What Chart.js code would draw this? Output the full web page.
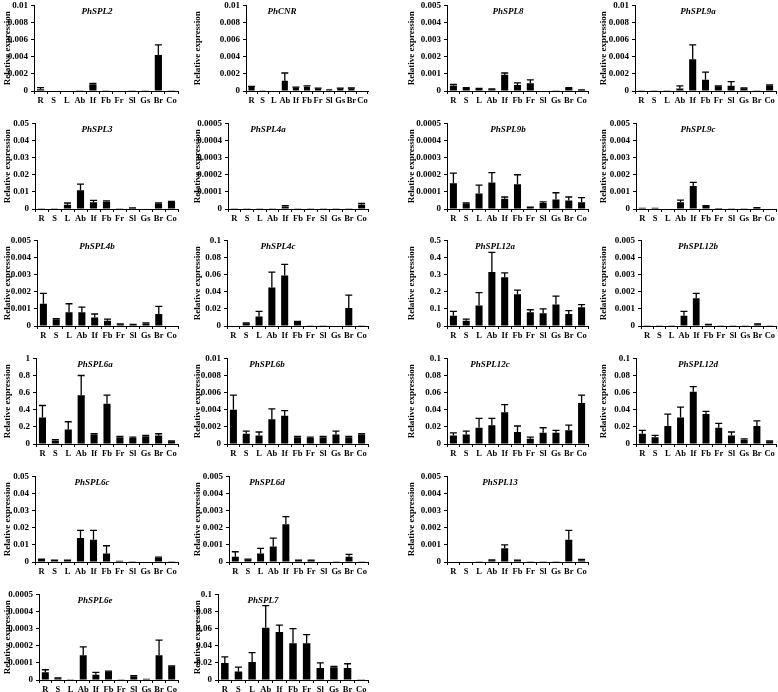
<!DOCTYPE html>
<html>
<head>
<meta charset="utf-8">
<script src="https://cdn.jsdelivr.net/npm/chart.js@4.4.1/dist/chart.umd.min.js"></script>
<style>
    body { margin: 0; background: #fff; }
    #wrap { position: relative; width: 778px; height: 692px; overflow: hidden; }
    #wrap canvas { position: absolute; }
</style>
</head>
<body>
<div id="wrap"></div>
<script>
// tissues on the x axis
var tissues = ["R", "S", "L", "Ab", "If", "Fb", "Fr", "Sl", "Gs", "Br", "Co"];

// mean relative expression and error (upper bar) per gene
var spl2Mean = [0.0002, 0.00005, 0.00006, 0.00002, 0.0008, 0.00002, 0.00005, 0.0001, 0.00003, 0.0042, 0.00003];
var spl2Err = [0.0002, 0, 0, 0, 0.0001, 0, 0, 0, 0, 0.0012, 0];
var cnrMean = [0.0005, 0.0001, 0.00006, 0.0012, 0.0004, 0.0005, 0.0003, 0.0002, 0.0003, 0.0003, 0.00005];
var cnrErr = [0.00005, 0, 0, 0.0009, 0.00005, 0.0001, 0.00003, 0, 0.00003, 0.00005, 0];
var spl8Mean = [0.0003, 0.00018, 0.00013, 0.0001, 0.00095, 0.00035, 0.00045, 0.00003, 0.00001, 0.00017, 0.00005];
var spl8Err = [0.00008, 0.00002, 0.00002, 0.00002, 0.0001, 0.00013, 0.0002, 0, 0, 0.00002, 0.00001];
var spl9aMean = [0.00003, 0.00003, 0.00003, 0.0003, 0.0037, 0.0013, 0.00055, 0.0006, 0.0003, 0.0001, 0.0006];
var spl9aErr = [0, 0, 0, 0.0003, 0.0017, 0.0009, 0.00005, 0.0005, 0.00005, 0, 0.0001];
var spl3Mean = [0.0005, 0.0005, 0.0025, 0.011, 0.004, 0.0043, 0.0005, 0.0005, 0.0003, 0.003, 0.0042];
var spl3Err = [0, 0, 0.001, 0.0035, 0.001, 0.0005, 0, 0.0002, 0, 0.0005, 0.0003];
var spl4aMean = [0.000001, 0.000001, 0.000001, 0.000001, 0.000015, 0.000001, 0.000001, 0.000001, 0.000001, 0.000001, 0.000025];
var spl4aErr = [0, 0, 0, 0, 0.000005, 0, 0, 0, 0, 0, 0.000007];
var spl9bMean = [0.00015, 0.00003, 0.00009, 0.000155, 0.00006, 0.000145, 0.000015, 0.000035, 0.000055, 0.00005, 0.00004];
var spl9bErr = [0.00006, 0.000005, 0.00005, 0.000058, 0.00001, 0.000055, 0, 0.000007, 0.00004, 0.00002, 0.000027];
var spl9cMean = [0.00008, 0.00008, 0.00003, 0.0004, 0.00135, 0.00017, 0.000005, 0.00002, 0.00001, 0.00007, 0.00003];
var spl9cErr = [0, 0, 0, 0.00012, 0.0002, 0.00003, 0, 0, 0, 0.00001, 0];
var spl4bMean = [0.0013, 0.0004, 0.0008, 0.0008, 0.0005, 0.0003, 0.0001, 0.00007, 0.00015, 0.0007, 0.00003];
var spl4bErr = [0.0006, 0.00003, 0.0005, 0.0003, 0.0002, 0.0001, 0.00002, 0.00002, 0.00003, 0.00045, 0];
var spl4cMean = [0.0005, 0.003, 0.011, 0.045, 0.059, 0.005, 0.0003, 0.0008, 0.0005, 0.021, 0.0003];
var spl4cErr = [0, 0.0005, 0.006, 0.018, 0.013, 0.0005, 0, 0, 0, 0.015, 0];
var spl12aMean = [0.06, 0.03, 0.12, 0.315, 0.285, 0.185, 0.08, 0.075, 0.125, 0.07, 0.11];
var spl12aErr = [0.025, 0.01, 0.075, 0.115, 0.025, 0.025, 0.015, 0.025, 0.05, 0.02, 0.015];
var spl12bMean = [0.00002, 0.00005, 0.00002, 0.0006, 0.00162, 0.00008, 0.00002, 0.00002, 0.00002, 0.0001, 0.00002];
var spl12bErr = [0, 0, 0, 0.00025, 0.00028, 0.00002, 0, 0, 0, 0.00002, 0];
var spl6aMean = [0.31, 0.04, 0.17, 0.57, 0.11, 0.47, 0.08, 0.07, 0.09, 0.1, 0.03];
var spl6aErr = [0.14, 0.01, 0.09, 0.23, 0.01, 0.1, 0.01, 0.01, 0.01, 0.02, 0.005];
var spl6bMean = [0.004, 0.0012, 0.001, 0.0029, 0.0033, 0.0008, 0.0007, 0.0008, 0.0011, 0.0008, 0.0011];
var spl6bErr = [0.0017, 0.0003, 0.0004, 0.0012, 0.0006, 0.0001, 0.0001, 0.0001, 0.0004, 0.0001, 0.0001];
var spl12cMean = [0.01, 0.011, 0.019, 0.022, 0.037, 0.014, 0.006, 0.013, 0.013, 0.016, 0.048];
var spl12cErr = [0.003, 0.004, 0.011, 0.008, 0.009, 0.007, 0.002, 0.006, 0.003, 0.006, 0.009];
var spl12dMean = [0.012, 0.008, 0.021, 0.031, 0.061, 0.035, 0.019, 0.01, 0.005, 0.021, 0.003];
var spl12dErr = [0.004, 0.002, 0.014, 0.012, 0.006, 0.003, 0.005, 0.004, 0.001, 0.006, 0.0005];
var spl6cMean = [0.002, 0.0015, 0.0015, 0.014, 0.013, 0.005, 0.0008, 0.0005, 0.0003, 0.0025, 0.0005];
var spl6cErr = [0, 0, 0, 0.0045, 0.0055, 0.0045, 0, 0, 0, 0.0003, 0];
var spl6dMean = [0.0003, 0.00015, 0.0005, 0.0009, 0.0022, 0.0001, 0.0001, 0.00003, 0.00001, 0.0003, 0.00002];
var spl6dErr = [0.0003, 0.00002, 0.0003, 0.0005, 0.00045, 0.00001, 0.00001, 0, 0, 0.00015, 0];
var spl13Mean = [0.00003, 0.00003, 0.00005, 0.0001, 0.0008, 0.0001, 0.00002, 0.00002, 0.00001, 0.0013, 0.0001];
var spl13Err = [0, 0, 0, 0.00002, 0.0002, 0.00001, 0, 0, 0, 0.00055, 0.00005];
var spl6eMean = [0.000045, 0.00001, 0.000005, 0.000145, 0.00003, 0.00005, 0.000002, 0.000022, 0.000007, 0.000145, 0.00008];
var spl6eErr = [0.000015, 0.000002, 0, 0.000048, 0.000015, 0.000002, 0, 0.000003, 0, 0.000088, 0.000003];
var spl7Mean = [0.02, 0.01, 0.021, 0.061, 0.056, 0.043, 0.043, 0.014, 0.015, 0.014, 0.001];
var spl7Err = [0.007, 0.005, 0.011, 0.026, 0.008, 0.017, 0.01, 0.006, 0.001, 0.005, 0];

// y axis maximum per panel (5 steps each)
var yMax = {
    PhSPL2: 0.01, PhCNR: 0.01, PhSPL8: 0.005, PhSPL9a: 0.01,
    PhSPL3: 0.05, PhSPL4a: 0.0005, PhSPL9b: 0.0005, PhSPL9c: 0.005,
    PhSPL4b: 0.005, PhSPL4c: 0.1, PhSPL12a: 0.5, PhSPL12b: 0.005,
    PhSPL6a: 1, PhSPL6b: 0.01, PhSPL12c: 0.1, PhSPL12d: 0.1,
    PhSPL6c: 0.05, PhSPL6d: 0.005, PhSPL13: 0.005,
    PhSPL6e: 0.0005, PhSPL7: 0.1
};

// page layout: gene, mean, err, row, canvas left, axis x, right x, title x
var rowTop = [3, 121, 238, 356, 474, 592];
var plotH = 88;
var panels = [
    ["PhSPL2", spl2Mean, spl2Err, 0, 2, 34, 178, 97],
    ["PhCNR", cnrMean, cnrErr, 0, 192, 246, 368, 282],
    ["PhSPL8", spl8Mean, spl8Err, 0, 406, 447, 588, 508],
    ["PhSPL9a", spl9aMean, spl9aErr, 0, 598, 635, 776, 698],
    ["PhSPL3", spl3Mean, spl3Err, 1, 2, 35, 178, 97],
    ["PhSPL4a", spl4aMean, spl4aErr, 1, 192, 228, 368, 268],
    ["PhSPL9b", spl9bMean, spl9bErr, 1, 406, 447, 588, 508],
    ["PhSPL9c", spl9cMean, spl9cErr, 1, 598, 636, 776, 698],
    ["PhSPL4b", spl4bMean, spl4bErr, 2, 2, 37, 178, 97],
    ["PhSPL4c", spl4cMean, spl4cErr, 2, 192, 227, 368, 278],
    ["PhSPL12a", spl12aMean, spl12aErr, 2, 406, 447, 588, 495],
    ["PhSPL12b", spl12bMean, spl12bErr, 2, 598, 641, 776, 698],
    ["PhSPL6a", spl6aMean, spl6aErr, 3, 2, 36, 178, 95],
    ["PhSPL6b", spl6bMean, spl6bErr, 3, 192, 227, 368, 267],
    ["PhSPL12c", spl12cMean, spl12cErr, 3, 406, 447, 588, 490],
    ["PhSPL12d", spl12dMean, spl12dErr, 3, 598, 636, 776, 698],
    ["PhSPL6c", spl6cMean, spl6cErr, 4, 2, 35, 178, 92],
    ["PhSPL6d", spl6dMean, spl6dErr, 4, 192, 229, 368, 267],
    ["PhSPL13", spl13Mean, spl13Err, 4, 406, 447, 588, 500],
    ["PhSPL6e", spl6eMean, spl6eErr, 5, 2, 39, 178, 95],
    ["PhSPL7", spl7Mean, spl7Err, 5, 192, 218, 368, 263]
];

var serif = '"Liberation Serif", "Times New Roman", serif';

// upper error bars with caps
var errorBars = {
    id: "errorBars",
    afterDatasetsDraw: function (chart) {
        var ctx = chart.ctx;
        var ds = chart.data.datasets[0];
        var yScale = chart.scales.y;
        ctx.save();
        ctx.strokeStyle = "#000";
        ctx.lineWidth = 1.3;
        chart.getDatasetMeta(0).data.forEach(function (bar, i) {
            var e = ds.errors[i];
            if (!e) return;
            var y0 = yScale.getPixelForValue(ds.data[i]);
            var y1 = yScale.getPixelForValue(ds.data[i] + e);
            ctx.beginPath();
            ctx.moveTo(bar.x, y0);
            ctx.lineTo(bar.x, y1);
            ctx.moveTo(bar.x - 3.5, y1);
            ctx.lineTo(bar.x + 3.5, y1);
            ctx.stroke();
        });
        ctx.restore();
    }
};

// gene name inside the plot, italic
var geneTitle = {
    id: "geneTitle",
    afterDraw: function (chart, args, opts) {
        var ctx = chart.ctx;
        ctx.save();
        ctx.font = "italic bold 9px " + serif;
        ctx.fillStyle = "#000";
        ctx.textAlign = "center";
        ctx.textBaseline = "middle";
        ctx.fillText(opts.text, opts.x, chart.chartArea.top + 6);
        ctx.restore();
    }
};

var wrap = document.getElementById("wrap");

panels.forEach(function (p) {
    var name = p[0], mean = p[1], err = p[2];
    var left = p[4], axisX = p[5], rightX = p[6], titleX = p[7];
    var top = rowTop[p[3]] - 6;
    var max = yMax[name];

    var canvas = document.createElement("canvas");
    canvas.width = rightX - left + 2;
    canvas.height = 6 + plotH + 18 + 2;
    canvas.style.left = left + "px";
    canvas.style.top = top + "px";
    wrap.appendChild(canvas);

    new Chart(canvas.getContext("2d"), {
        type: "bar",
        data: {
            labels: tissues,
            datasets: [
                {
                    data: mean,
                    errors: err,
                    backgroundColor: "#000",
                    borderWidth: 0,
                    barPercentage: 0.55,
                    categoryPercentage: 1.0,
                },
            ],
        },
        options: {
            responsive: false,
            animation: false,
            layout: { padding: { top: 6, right: 2, bottom: 2, left: 0 } },
            plugins: {
                legend: { display: false },
                tooltip: { enabled: false },
                geneTitle: { text: name, x: titleX - left },
            },
            scales: {
                x: {
                    offset: true,
                    border: { color: "#000", width: 1 },
                    grid: { drawOnChartArea: false, offset: true, color: "#000", tickLength: 3 },
                    ticks: {
                        autoSkip: false,
                        maxRotation: 0,
                        padding: 2,
                        color: "#000",
                        font: { family: serif, size: 8.5, weight: "bold" },
                    },
                    afterFit: function (scale) {
                        scale.height = 18;
                    },
                },
                y: {
                    min: 0,
                    max: max,
                    border: { color: "#000", width: 1 },
                    grid: { drawOnChartArea: false, color: "#000", tickLength: 3 },
                    ticks: {
                        stepSize: max / 5,
                        padding: 3,
                        color: "#000",
                        font: { family: serif, size: 9, weight: "bold" },
                        callback: function (v) {
                            return String(+v.toFixed(6));
                        },
                    },
                    title: {
                        display: true,
                        text: "Relative expression",
                        color: "#000",
                        padding: 0,
                        font: { family: serif, size: 9, weight: "bold" },
                    },
                    afterFit: function (scale) {
                        scale.width = axisX - left;
                    },
                },
            },
        },
        plugins: [errorBars, geneTitle],
    });
});
</script>
</body>
</html>
